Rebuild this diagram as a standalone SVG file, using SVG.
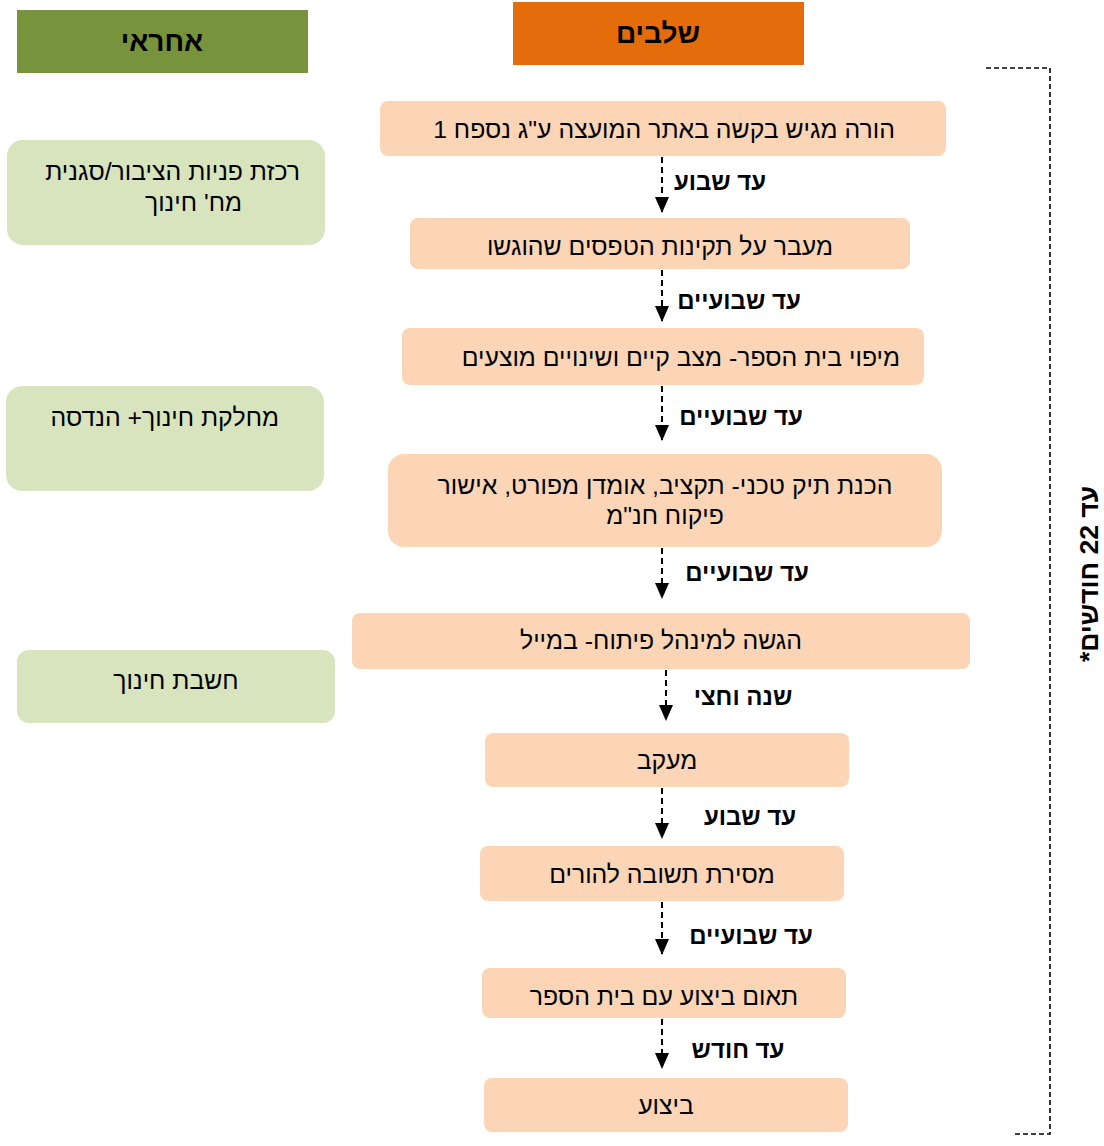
<svg xmlns="http://www.w3.org/2000/svg" width="1104" height="1146" viewBox="0 0 1104 1146">
<defs>
<marker id="ah" markerWidth="16" markerHeight="14" refX="15" refY="7" orient="auto" markerUnits="userSpaceOnUse" viewBox="0 0 16 14">
<path d="M0,0 L16,7 L0,14 Z" fill="#000"/>
</marker>
<style>
text{font-family:"Liberation Sans",Arial,sans-serif;direction:rtl;text-anchor:middle;fill:#000}
.hd{font-size:28px;font-weight:bold}
.t{font-size:24.8px}
.lb{font-size:24px;font-weight:bold}
.st{fill:#FBD5B5}
.gr{fill:#D7E4BD}
.ar{stroke:#000;stroke-width:2;stroke-dasharray:6,4;fill:none}
.br{stroke:#000;stroke-width:1.6;stroke-dasharray:5,3;fill:none}
</style>
</defs>
<rect width="1104" height="1146" fill="#fff"/>
<g id="hdr-resp"><rect x="17" y="10" width="291" height="63" fill="#77933C"/><text class="hd" x="162" y="51">אחראי</text></g>
<g id="hdr-stages"><rect x="513" y="2" width="291" height="63" fill="#E46C0A"/><text class="hd" x="658" y="43">שלבים</text></g>

<g id="r1"><rect class="gr" x="7" y="140" width="318" height="105" rx="16"/><text class="t" x="300" y="180" style="text-anchor:start">רכזת פניות הציבור/סגנית</text><text class="t" x="242" y="211" style="text-anchor:start">מח' חינוך</text></g>
<g id="r2"><rect class="gr" x="6" y="386" width="318" height="105" rx="16"/><text class="t" x="279" y="426" style="text-anchor:start">מחלקת חינוך+ הנדסה</text></g>
<g id="r3"><rect class="gr" x="17" y="650" width="318" height="73" rx="12"/><text class="t" x="176" y="689">חשבת חינוך</text></g>

<g id="s1"><rect class="st" x="380" y="101" width="566" height="55" rx="8"/><text class="t" x="664" y="138">הורה מגיש בקשה באתר המועצה ע"ג נספח 1</text></g>
<g id="s2"><rect class="st" x="410" y="218" width="500" height="51" rx="8"/><text class="t" x="660" y="255">מעבר על תקינות הטפסים שהוגשו</text></g>
<g id="s3"><rect class="st" x="402" y="328" width="522" height="57" rx="8"/><text class="t" x="900" y="366" style="text-anchor:start">מיפוי בית הספר- מצב קיים ושינויים מוצעים</text></g>
<g id="s4"><rect class="st" x="388" y="454" width="554" height="93" rx="16"/><text class="t" x="665" y="494">הכנת תיק טכני- תקציב, אומדן מפורט, אישור</text><text class="t" x="665" y="524">פיקוח חנ"מ</text></g>
<g id="s5"><rect class="st" x="352" y="613" width="618" height="56" rx="8"/><text class="t" x="661" y="649">הגשה למינהל פיתוח- במייל</text></g>
<g id="s6"><rect class="st" x="485" y="733" width="364" height="54" rx="8"/><text class="t" x="667" y="769">מעקב</text></g>
<g id="s7"><rect class="st" x="480" y="846" width="364" height="55" rx="8"/><text class="t" x="662" y="883">מסירת תשובה להורים</text></g>
<g id="s8"><rect class="st" x="482" y="968" width="364" height="50" rx="8"/><text class="t" x="664" y="1005">תאום ביצוע עם בית הספר</text></g>
<g id="s9"><rect class="st" x="484" y="1078" width="364" height="54" rx="8"/><text class="t" x="666" y="1114">ביצוע</text></g>

<g id="connectors">
<line class="ar" x1="662" y1="157" x2="662" y2="212" marker-end="url(#ah)"/>
<line class="ar" x1="662" y1="270" x2="662" y2="321" marker-end="url(#ah)"/>
<line class="ar" x1="662" y1="386" x2="662" y2="440" marker-end="url(#ah)"/>
<line class="ar" x1="662" y1="548" x2="662" y2="598" marker-end="url(#ah)"/>
<line class="ar" x1="666" y1="670" x2="666" y2="720" marker-end="url(#ah)"/>
<line class="ar" x1="662" y1="788" x2="662" y2="838" marker-end="url(#ah)"/>
<line class="ar" x1="662" y1="902" x2="662" y2="954" marker-end="url(#ah)"/>
<line class="ar" x1="662" y1="1019" x2="662" y2="1068" marker-end="url(#ah)"/>
<path class="br" d="M986,68 H1050 V1134 H1014"/>
</g>
<g id="labels">
<text class="lb" x="720" y="190">עד שבוע</text>
<text class="lb" x="739" y="309">עד שבועיים</text>
<text class="lb" x="741" y="425">עד שבועיים</text>
<text class="lb" x="747" y="581">עד שבועיים</text>
<text class="lb" x="743" y="705">שנה וחצי</text>
<text class="lb" x="750" y="825">עד שבוע</text>
<text class="lb" x="751" y="944">עד שבועיים</text>
<text class="lb" x="738" y="1058">עד חודש</text>
<text class="lb" style="font-size:26.5px" transform="translate(1098,574) rotate(-90)" x="0" y="0">עד 22 חודשים*</text>
</g>
</svg>
